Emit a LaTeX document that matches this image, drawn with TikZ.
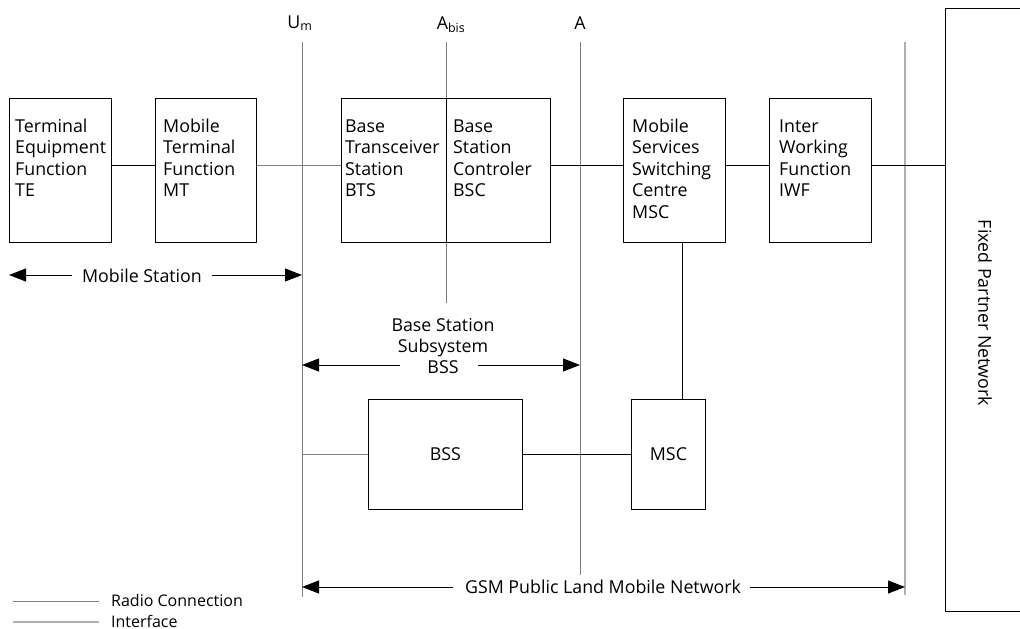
\documentclass[tikz,border=0pt]{standalone}
\usepackage{fontspec}
\setmainfont{Open Sans}
\usetikzlibrary{arrows.meta}
\definecolor{radiocol}{HTML}{808080}
\definecolor{ifacecol}{HTML}{B0B0B0}
\definecolor{inkcol}{HTML}{000000}
\begin{document}
\begin{tikzpicture}[x=1pt,y=-1pt,
  box/.style={draw=inkcol, line width=0.9pt, inner sep=0, anchor=north west, fill=white},
  txt/.style={font=\fontsize{17.8}{21.6}\selectfont, align=left, inner sep=0, anchor=base west, text=inkcol},
  ctxt/.style={font=\fontsize{17.8}{21}\selectfont, align=center, inner sep=0, text=inkcol},
  conn/.style={draw=inkcol, line width=0.9pt},
  radio/.style={draw=radiocol, line width=0.9pt},
  iface/.style={draw=ifacecol, line width=1.1pt},
  arr/.style={draw=inkcol, line width=0.9pt, -{Triangle[length=17pt,width=13pt]}},
  small/.style={font=\fontsize{16}{18}\selectfont, inner sep=0, anchor=base west, text=inkcol}
]
\useasboundingbox (0,0) rectangle (1020,629);

% interface lines
\coordinate (umt) at (302,42);  \coordinate (umb) at (302,597);
\coordinate (abt) at (446,42);  \coordinate (abb) at (446,303);
\coordinate (at)  at (580,42);  \coordinate (ab)  at (580,575);
\coordinate (ft)  at (905,42);  \coordinate (fb)  at (905,595);
\draw[radio] (umt) -- (umb);
\draw[radio] (abt) -- (abb);
\draw[radio] (at) -- (ab);
\draw[iface] (ft) -- (fb);

\node[ctxt, anchor=base] (umlab) at (300,28) {U\textsubscript{m}};
\node[ctxt, anchor=base] (ablab) at (451,29) {A\textsubscript{bis}};
\node[ctxt, anchor=base] (alab)  at (580,29) {A};

% boxes
\node[box, minimum width=102, minimum height=144] (te)  at (9,98) {};
\node[box, minimum width=101, minimum height=144] (mt)  at (155,98) {};
\node[box, minimum width=105, minimum height=144] (bts) at (341,98) {};
\node[box, minimum width=104, minimum height=144] (bsc) at (446,98) {};
\node[box, minimum width=102, minimum height=144] (msc) at (623,98) {};
\node[box, minimum width=102, minimum height=144] (iwf) at (769,98) {};
\node[box, minimum width=154, minimum height=110] (bss2) at (368,399) {};
\node[box, minimum width=74, minimum height=110] (msc2) at (631,399) {};

% multi-line nodes: base = baseline of last line (first baseline 132)
\node[txt] (tetx)  at (15,196.8)  {Terminal\\Equipment\\Function\\TE};
\node[txt] (mttx)  at (163,196.8) {Mobile\\Terminal\\Function\\MT};
\node[txt] (btstx) at (345,196.8) {Base\\Transceiver\\Station\\BTS};
\node[txt] (bsctx) at (453,196.8) {Base\\Station\\Controler\\BSC};
\node[txt] (msctx) at (632,218.4) {Mobile\\Services\\Switching\\Centre\\MSC};
\node[txt] (iwftx) at (779,196.8) {Inter\\Working\\Function\\IWF};
\node[ctxt] (bss2tx) at (bss2.center) {BSS};
\node[ctxt] (msc2tx) at (msc2.center) {MSC};

% fixed partner network
\coordinate (fpnl) at (945,165);
\draw[conn] (1022,8) -- (945,8) -- (945,611) -- (1022,611);
\node[ctxt, rotate=-90] (fpntx) at (985,313) {Fixed Partner Network};

% connectors
\coordinate (row) at (0,165);
\draw[conn]  (te.east |- row) -- (mt.west |- row);
\draw[radio] (mt.east |- row) -- (bts.west |- row);
\draw[conn]  (bsc.east |- row) -- (msc.west |- row);
\draw[conn]  (msc.east |- row) -- (iwf.west |- row);
\draw[conn]  (iwf.east |- row) -- (fpnl);
\coordinate (mscv) at (682,0);
\draw[conn] (msc.south -| mscv) -- (msc2.north -| mscv);
\draw[radio] (umb |- bss2.west) -- (bss2.west);
\draw[conn] (bss2.east) -- (msc2.west);

% extents
\node[ctxt, anchor=base] (mslab) at (142,282) {Mobile Station};
\coordinate (msl) at (9,275); \coordinate (msr) at (302,275);
\draw[arr] (72,275) -- (msl);
\draw[arr] (212,275) -- (msr);

\node[ctxt, anchor=base] (bsslab) at (443,373) {Base Station\\Subsystem\\BSS};
\coordinate (bssl) at (302,365); \coordinate (bssr) at (580,365);
\draw[arr] (400,365) -- (bssl);
\draw[arr] (478,365) -- (bssr);

\node[ctxt, anchor=base] (gsmlab) at (603,593) {GSM Public Land Mobile Network};
\coordinate (gsml) at (302,587); \coordinate (gsmr) at (905,587);
\draw[arr] (453,587) -- (gsml);
\draw[arr] (750,587) -- (gsmr);

% legend
\draw[radio] (13,601) -- (99,601);
\node[small] (leg1) at (111,606) {Radio Connection};
\draw[iface] (13,622) -- (99,622);
\node[small] (leg2) at (111,627) {Interface};
\end{tikzpicture}
\end{document}
